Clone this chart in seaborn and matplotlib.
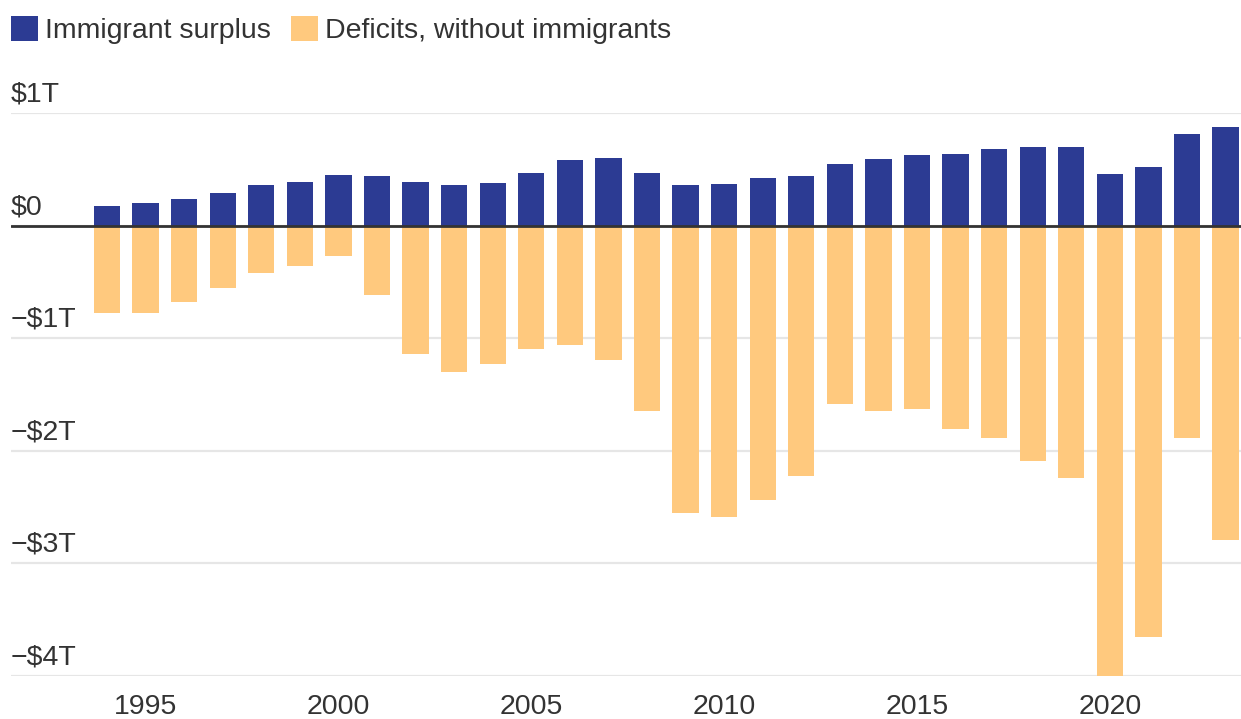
"""Immigrant surplus vs. deficits without immigrants, 1994-2023"""
import matplotlib
matplotlib.use("Agg")
import matplotlib.pyplot as plt
from matplotlib.patches import Patch
import pandas as pd
import seaborn as sns

years = list(range(1994, 2024))
# trillions of dollars
surplus = [0.17, 0.20, 0.24, 0.29, 0.36, 0.39, 0.45, 0.44, 0.39, 0.36, 0.38, 0.47,
           0.58, 0.60, 0.47, 0.36, 0.37, 0.42, 0.44, 0.55, 0.59, 0.63, 0.64, 0.68,
           0.70, 0.70, 0.46, 0.52, 0.81, 0.88]
deficit = [-0.78, -0.78, -0.68, -0.55, -0.42, -0.36, -0.27, -0.62, -1.14, -1.30, -1.23, -1.10,
           -1.06, -1.19, -1.65, -2.55, -2.59, -2.44, -2.22, -1.58, -1.65, -1.63, -1.81, -1.89,
           -2.09, -2.24, -4.20, -3.65, -1.89, -2.79]
y_ticks = [1, 0, -1, -2, -3, -4]
y_labels = ["$1T", "$0", "\u2212$1T", "\u2212$2T", "\u2212$3T", "\u2212$4T"]
x_tick_years = [1995, 2000, 2005, 2010, 2015, 2020]

BLUE = "#2c3b93"
ORANGE = "#ffc97e"
TEXT = "#333333"
FS = 20.5

df = pd.DataFrame({"year": [str(y) for y in years], "surplus": surplus, "deficit": deficit})

sns.set_style("white")
plt.rcParams["font.family"] = ["Liberation Sans", "DejaVu Sans"]

fig = plt.figure(figsize=(12.41, 7.19), dpi=100)
ax = fig.add_axes([11 / 1241, 1 - 676 / 719, 1 - 11 / 1241, (676 - 113) / 719])

sns.barplot(data=df, x="year", y="surplus", color=BLUE, saturation=1, width=0.68,
            linewidth=0, ax=ax)
sns.barplot(data=df, x="year", y="deficit", color=ORANGE, saturation=1, width=0.68,
            linewidth=0, ax=ax)

ax.set_ylim(-4.0, 1.0)
ax.set_xlim(-2.49, 29.4)
ax.set_yticks(y_ticks)
ax.set_yticklabels([])
ax.grid(axis="y", color="#e6e6e6", linewidth=1.6)
ax.set_axisbelow(True)
ax.axhline(0, color=TEXT, linewidth=2, zorder=5)

for v, lab in zip(y_ticks, y_labels):
    ax.annotate(lab, xy=(0, v), xycoords=ax.get_yaxis_transform(), xytext=(0, 4),
                textcoords="offset points", ha="left", va="bottom", fontsize=FS, color=TEXT)

ax.set_xticks([years.index(y) for y in x_tick_years])
ax.set_xticklabels([str(y) for y in x_tick_years], fontsize=FS, color=TEXT)
ax.tick_params(axis="both", length=0)
ax.tick_params(axis="x", pad=13)
ax.set_xlabel("")
ax.set_ylabel("")
sns.despine(ax=ax, left=True, bottom=True)

handles = [Patch(facecolor=BLUE, edgecolor="none", label="Immigrant surplus"),
           Patch(facecolor=ORANGE, edgecolor="none", label="Deficits, without immigrants")]
fig.legend(handles=handles, loc="upper left", bbox_to_anchor=(11 / 1241, 1 - 16 / 719),
           ncol=2, frameon=False, fontsize=FS, handlelength=0.95, handleheight=1.0,
           handletextpad=0.25, columnspacing=0.7, borderpad=0, borderaxespad=0,
           labelcolor=TEXT)

fig.savefig("out.png", dpi=100, facecolor="white")
